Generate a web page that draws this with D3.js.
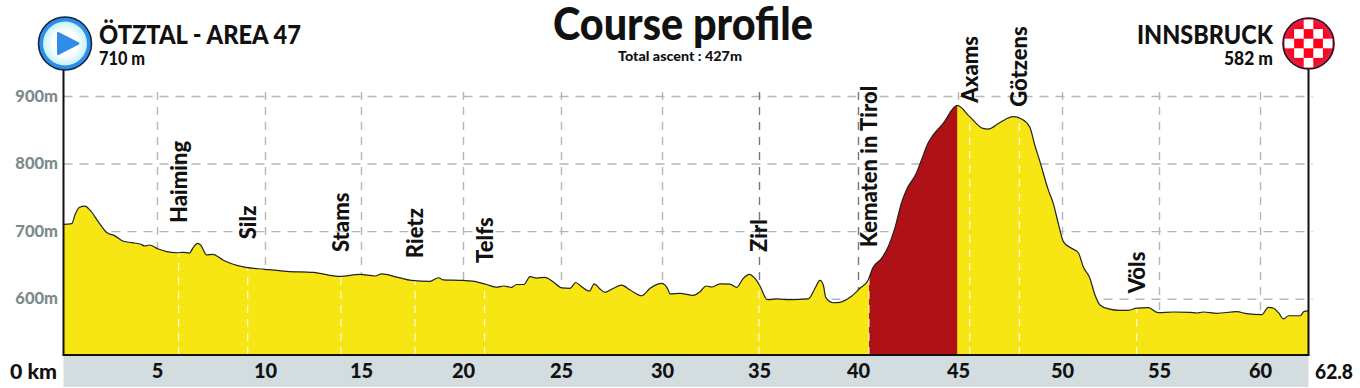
<!DOCTYPE html>
<html>
<head>
<meta charset="utf-8">
<script src="https://cdn.jsdelivr.net/npm/d3@7"></script>
<style>
	html, body { margin: 0; padding: 0; background: #fff; }
	svg { display: block; }
	text { font-family: Lato, "Noto Sans", sans-serif; font-weight: 900; }
</style>
</head>
<body>
<svg id="chart" width="1360" height="388"></svg>
<script>
const kmTicks = [5, 10, 15, 20, 25, 30, 35, 40, 45, 50, 55, 60];
const elevTicks = [600, 700, 800, 900];

const profileKm = [0, 0.44, 0.61, 0.84, 1.15, 1.42, 1.86, 2.31, 2.75, 3.2, 3.65, 4.09, 4.36, 4.59, 5.06, 5.45, 5.91, 6.22, 6.5, 6.68, 6.87, 7.02, 7.3, 7.58, 8.07, 8.53, 9.0, 10, 11.13, 12.52, 13.9, 14.95, 15.69, 16.01, 16.75, 17.48, 18.38, 18.79, 19.03, 20, 20.7, 21.21, 21.72, 22.06, 22.48, 22.74, 23.11, 23.42, 23.76, 24.18, 24.61, 25.04, 25.45, 25.73, 26.02, 26.4, 26.65, 26.93, 27.18, 27.59, 28, 28.42, 29, 29.41, 29.99, 30.32, 30.41, 30.93, 31.61, 31.96, 32.27, 32.56, 32.99, 33.51, 33.85, 34.19, 34.5, 34.79, 35.05, 35.42, 35.89, 36.57, 37.49, 37.83, 38.08, 38.25, 38.37, 38.75, 39.09, 39.6, 40.1, 40.51, 40.73, 41.18, 41.51, 41.84, 42.17, 42.42, 42.92, 43.17, 43.5, 43.75, 44.24, 44.96, 45.56, 46.2, 46.44, 47, 47.65, 48.05, 48.45, 48.69, 48.94, 49.34, 49.58, 49.82, 50.07, 50.41, 50.84, 51.1, 51.44, 51.7, 51.96, 52.39, 52.99, 53.42, 53.85, 54.45, 54.96, 55.71, 56.53, 56.87, 57.19, 57.86, 58.85, 59.34, 60.1, 60.48, 60.78, 61.07, 61.36, 61.65, 62.33, 62.53, 62.8];
const profileElev = [710, 711, 724, 735, 737, 731, 714, 698, 693, 685, 683, 681, 678, 679.5, 673.5, 669.6, 668, 668.7, 667.6, 676, 682, 679.5, 664.7, 665.7, 657, 651, 647, 643.5, 640.5, 639, 633, 636, 633.6, 636.6, 632, 627, 625.7, 631, 628, 627, 625, 621, 617, 618.8, 616.9, 621, 621, 632.6, 630.6, 631.7, 624.7, 616, 615.4, 624, 617.8, 611.4, 622, 614.4, 609.5, 615.4, 620, 613, 604.4, 615.4, 622.8, 613, 607, 608, 605, 610.4, 618.8, 617.3, 622, 621.7, 616.9, 630, 636, 630, 618.8, 598.5, 599.6, 598.5, 599.6, 615.4, 627, 620, 602, 594, 594.7, 602, 615.4, 627.7, 645, 659.8, 677, 704, 741.5, 761, 786, 805, 830, 842, 858.6, 886, 869.4, 852, 851, 860.4, 869.4, 866, 854, 827.5, 802.8, 761, 741, 711.6, 684.4, 676, 668, 647, 630, 605.5, 590.7, 585, 582.8, 582.8, 586, 586.7, 579.3, 580.3, 579.9, 578.8, 580.3, 578.4, 580.8, 577.8, 576.3, 587.3, 585.8, 579.3, 570, 574.8, 574.8, 580.8, 582];

const villageNames = ["Haiming", "Silz", "Stams", "Rietz", "Telfs", "Zirl", "Kematen in Tirol", "Axams", "Götzens", "Völs"];
const villageKm = [6.0, 9.2, 13.95, 17.65, 21.1, 35, 40.55, 45.56, 47.95, 53.85];
const villageLabelElev = [712, 688, 669, 660, 653, 669, 676, 890, 884, 608];

const climbFromKm = 40.55;
const climbToKm = 44.96;
const courseKm = 62.8;
const baseElev = 516.7;

const width = 1360, height = 388;
const svg = d3.select("#chart");

// the printed km ticks are not evenly spaced, so the scale follows them piece by piece
const x = d3.scaleLinear()
	.domain([0, ...kmTicks, courseKm])
	.range([63.5, 157, 265, 361, 463, 561, 662, 759, 858, 958, 1062, 1159, 1260, 1308.5]);
const y = d3.scaleLinear().domain([600, 900]).range([298.7, 96]);
const floorY = y(baseElev);

const profile = profileKm.map((km, i) => ({ km: km, elev: profileElev[i] }));
const curve = d3.curveMonotoneX;
const area = d3.area().x((d) => x(d.km)).y0(floorY).y1((d) => y(d.elev)).curve(curve);
const line = d3.line().x((d) => x(d.km)).y((d) => y(d.elev)).curve(curve);

const defs = svg.append("defs");
defs.append("clipPath").attr("id", "profileClip").append("path").attr("d", area(profile));
defs.append("clipPath").attr("id", "climbClip").append("rect")
	.attr("x", x(climbFromKm)).attr("y", 0)
	.attr("width", x(climbToKm) - x(climbFromKm)).attr("height", height);

// km band
svg.append("rect")
	.attr("x", x(0)).attr("y", floorY)
	.attr("width", x(courseKm) - x(0)).attr("height", 32)
	.attr("fill", "#d3dde0");

// grid
const gridY = svg.append("g")
	.attr("transform", `translate(${x(0)},0)`)
	.call(d3.axisLeft(y).tickValues(elevTicks).tickSize(-(x(courseKm) - x(0) + 4)).tickFormat(""));
gridY.select(".domain").remove();
gridY.selectAll("line").attr("stroke", "#b4b6b8").attr("stroke-width", 1.4).attr("stroke-dasharray", "9 7");

const gridX = svg.append("g")
	.attr("transform", `translate(0,${floorY})`)
	.call(d3.axisBottom(x).tickValues(kmTicks).tickSize(-(floorY - 88)).tickFormat(""));
gridX.select(".domain").remove();
gridX.selectAll("line")
	.attr("stroke", (d) => (d == 35 || d == 40) ? "#6f7a80" : "#b4b6b8")
	.attr("stroke-width", 1.4)
	.attr("stroke-dasharray", "8 7");

// profile
svg.append("path").attr("d", area(profile)).attr("fill", "#f7e514");
svg.append("path").attr("d", area(profile)).attr("fill", "#b01116").attr("clip-path", "url(#climbClip)");

svg.append("g").attr("clip-path", "url(#profileClip)")
	.selectAll("line")
	.data(villageKm)
	.enter()
	.append("line")
	.attr("x1", (d) => x(d)).attr("x2", (d) => x(d))
	.attr("y1", floorY).attr("y2", 90)
	.attr("stroke", "#fff")
	.attr("stroke-opacity", 0.85)
	.attr("stroke-width", 1.2)
	.attr("stroke-dasharray", "8 6");

svg.append("path").attr("d", line(profile)).attr("fill", "none").attr("stroke", "#222").attr("stroke-width", 1.2);

// village names
svg.append("g").selectAll("text")
	.data(villageNames)
	.enter()
	.append("text")
	.attr("transform", (d, i) => `translate(${x(villageKm[i]) + 8},${y(villageLabelElev[i])}) rotate(-90)`)
	.attr("font-size", 22)
	.attr("fill", "#111")
	.text((d) => d);

// frame
svg.append("line").attr("x1", x(0)).attr("x2", x(0)).attr("y1", 60).attr("y2", floorY).attr("stroke", "#111").attr("stroke-width", 2);
svg.append("line").attr("x1", x(courseKm)).attr("x2", x(courseKm)).attr("y1", 60).attr("y2", floorY).attr("stroke", "#111").attr("stroke-width", 2);
svg.append("line").attr("x1", x(0) - 1).attr("x2", x(courseKm) + 1).attr("y1", floorY).attr("y2", floorY).attr("stroke", "#111").attr("stroke-width", 2);

// axis labels
const axisY = svg.append("g")
	.attr("transform", "translate(60,0)")
	.call(d3.axisLeft(y).tickValues(elevTicks).tickSize(0).tickPadding(2).tickFormat((d) => d + "m"));
axisY.select(".domain").remove();
axisY.selectAll("text").attr("font-size", 16.5).attr("fill", "#7d8a8e").style("font-family", "Lato").style("font-weight", 900);

const axisX = svg.append("g")
	.attr("transform", `translate(0,${floorY + 6})`)
	.call(d3.axisBottom(x).tickValues(kmTicks).tickSize(0).tickPadding(3));
axisX.select(".domain").remove();
axisX.selectAll("text").attr("font-size", 20).attr("fill", "#111").style("font-family", "Lato").style("font-weight", 900);

function label(tx, ty, str, size, anchor, len) {
	let t = svg.append("text")
		.attr("x", tx).attr("y", ty)
		.attr("text-anchor", anchor)
		.attr("font-size", size)
		.attr("fill", "#111")
		.text(str);
	if (len) t.attr("textLength", len).attr("lengthAdjust", "spacingAndGlyphs");
	return t;
}

label(57, 379, "0 km", 21, "end", 47);
label(1315, 379, "62.8", 20, "start", 38);
label(683, 40, "Course profile", 46, "middle", 260);
label(680, 61, "Total ascent : 427m", 12.5, "middle", 124);
label(99, 44, "ÖTZTAL - AREA 47", 26, "start", 202);
label(99, 65, "710 m", 18, "start", 46);
label(1273, 44, "INNSBRUCK", 26, "end", 136);
label(1273, 65, "582 m", 18, "end", 49);

// start marker
const startGlow = defs.append("radialGradient").attr("id", "startGlow");
startGlow.append("stop").attr("offset", "55%").attr("stop-color", "#ffffff");
startGlow.append("stop").attr("offset", "100%").attr("stop-color", "#c4f1f6");

const startMark = svg.append("g").attr("transform", `translate(${x(0) + 1.5},43.5)`);
startMark.append("circle").attr("r", 26.5).attr("fill", "#2f8de8").attr("stroke", "#12263f").attr("stroke-width", 1.6);
startMark.append("circle").attr("r", 22).attr("fill", "url(#startGlow)");
startMark.append("path").attr("d", d3.line()([[-7, -10.5], [-7, 10.5], [13.5, 0]]) + "Z")
	.attr("fill", "#2f8de8").attr("stroke", "#2f8de8").attr("stroke-width", 2).attr("stroke-linejoin", "round");

// finish marker
const glow = defs.append("radialGradient").attr("id", "finishGlow");
glow.append("stop").attr("offset", "70%").attr("stop-color", "#ff0018");
glow.append("stop").attr("offset", "100%").attr("stop-color", "#d8264f");
defs.append("clipPath").attr("id", "finishClip").append("circle").attr("r", 24.5);

const finishMark = svg.append("g").attr("transform", `translate(${x(courseKm)},43.5)`);
finishMark.append("circle").attr("r", 25.5).attr("fill", "url(#finishGlow)").attr("stroke", "#3a0a14").attr("stroke-width", 1.6);
const cells = d3.range(-2, 3).flatMap((a) => d3.range(-2, 3).map((b) => [a, b]));
finishMark.append("g").attr("clip-path", "url(#finishClip)")
	.selectAll("rect")
	.data(cells.filter((c) => (c[0] + c[1]) % 2 == 0 && Math.abs(c[0]) + Math.abs(c[1]) < 4))
	.enter()
	.append("rect")
	.attr("x", (d) => d[0] * 9.6 - 4.8)
	.attr("y", (d) => d[1] * 9.6 - 4.8)
	.attr("width", 9.6).attr("height", 9.6)
	.attr("fill", "#fff");
</script>
</body>
</html>
